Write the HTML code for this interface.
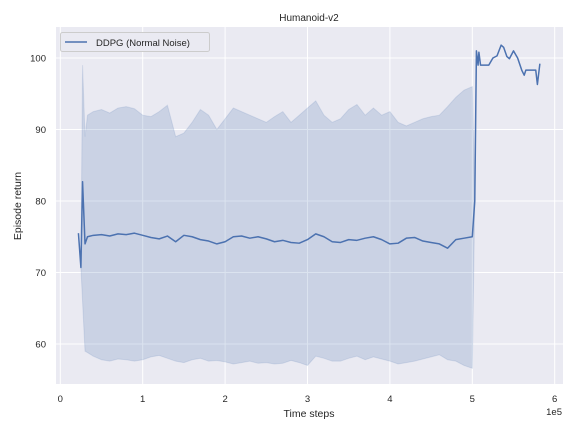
<!DOCTYPE html>
<html><head><meta charset="utf-8"><style>
body{margin:0;background:#fff;font-family:"Liberation Sans",sans-serif;}
svg text{font-family:"Liberation Sans",sans-serif;fill:#262626;}
</style></head><body>
<svg width="576" height="432" xmlns="http://www.w3.org/2000/svg" id="chart">
<rect x="56" y="27" width="507" height="357" fill="#eaeaf2"/>
<g id="grid"></g><g id="series"></g><g id="ticks"></g>
<text x="309" y="21" font-size="10" text-anchor="middle">Humanoid-v2</text>
<text x="309" y="417" font-size="10.5" text-anchor="middle">Time steps</text>
<text x="21" y="206" font-size="10.5" text-anchor="middle" transform="rotate(-90 21 206)">Episode return</text>
<text x="562" y="415" font-size="9.5" text-anchor="end">1e5</text>
<g>
<rect x="60.5" y="32.5" width="149" height="19" rx="2" fill="#eaeaf2" stroke="#cccccc"/>
<line x1="65" y1="42" x2="87" y2="42" stroke="#4c72b0" stroke-width="1.5"/>
<text x="96" y="46" font-size="9.5">DDPG (Normal Noise)</text>
</g>
</svg>
<script>
const xsEarly=[0.22,0.25,0.27,0.30,0.33];
const meanEarly=[75.5,70.7,82.7,74.0,75.0];
const upEarly=[75.5,70.7,99.0,89.0,92.0];
const loEarly=[75.5,70.7,66.0,59.0,58.8];
const meanMid=[75.2,75.3,75.1,75.4,75.3,75.5,75.2,74.9,74.7,75.1,74.3,75.2,75.0,74.6,74.4,74.0,74.3,75.0,75.1,74.8,75.0,74.7,74.3,74.5,74.2,74.1,74.6,75.4,75.0,74.3,74.2,74.6,74.5,74.8,75.0,74.6,74.0,74.1,74.8,74.9,74.4,74.2,74.0,73.4,74.6,74.8,75.0];
const upMid=[92.5,92.8,92.3,93.0,93.2,92.9,92.0,91.8,92.5,93.4,89.0,89.5,91.0,92.8,92.0,90.0,91.5,93.0,92.5,92.0,91.5,91.0,91.8,92.5,91.0,92.0,93.0,94.0,92.0,91.0,91.5,92.8,93.5,92.0,93.0,92.0,92.5,91.0,90.5,91.0,91.5,91.8,92.0,93.2,94.5,95.5,96.0];
const loMid=[58.3,57.8,57.6,57.9,57.8,57.6,57.8,58.2,58.4,58.0,57.6,57.4,57.8,58.0,57.6,57.7,57.5,57.2,57.4,57.6,57.3,57.4,57.2,57.3,57.7,57.4,57.0,58.3,58.0,57.6,57.6,58.0,58.3,57.8,58.2,57.9,57.6,57.2,57.4,57.6,57.9,58.2,58.5,57.8,57.6,57.0,56.6];
const xsLate=[5.03,5.05,5.07,5.08,5.10,5.12,5.20,5.25,5.30,5.35,5.38,5.42,5.45,5.50,5.55,5.60,5.63,5.65,5.77,5.79,5.82];
const meanLate=[80.0,101.0,99.0,100.8,99.0,99.0,99.0,100.0,100.3,101.8,101.5,100.2,99.9,101.0,100.0,98.3,97.6,98.3,98.3,96.3,99.2];
const xTicks=[0,1,2,3,4,5,6];
const yTicks=[60,70,80,90,100];
const X=v=>60.3+v*82.4, Y=v=>58+(100-v)*7.15;
const NS="http://www.w3.org/2000/svg";
function mk(t,a,p){const e=document.createElementNS(NS,t);for(const k in a)e.setAttribute(k,a[k]);p.appendChild(e);return e;}
const grid=document.getElementById('grid'),ticks=document.getElementById('ticks'),ser=document.getElementById('series');
xTicks.forEach(t=>{const g=mk('line',{x1:X(t),x2:X(t),y1:27,y2:384,stroke:'#fff','stroke-width':1},grid);


const l=mk('text',{x:X(t),y:402,'font-size':9.5,'text-anchor':'middle'},ticks);l.textContent=t;

});
yTicks.forEach(t=>{const g=mk('line',{x1:56,x2:563,y1:Y(t),y2:Y(t),stroke:'#fff','stroke-width':1},grid);


const l=mk('text',{x:46,y:Y(t)+3.5,'font-size':9.5,'text-anchor':'end'},ticks);l.textContent=t;

});
const xsMid=meanMid.map((_,i)=>0.4+i*0.1);
const xs=[...xsEarly,...xsMid,...xsLate];
const mean=[...meanEarly,...meanMid,...meanLate];
const up=[...upEarly,...upMid,...meanLate];
const lo=[...loEarly,...loMid,...meanLate];
let d='M'+xs.map((x,i)=>X(x)+','+Y(up[i])).join('L');
for(let i=xs.length-1;i>=0;i--)d+='L'+X(xs[i])+','+Y(lo[i]);
const band=mk('path',{d:d+'Z',fill:'#4c72b0','fill-opacity':0.2,stroke:'#4c72b0','stroke-opacity':0.15},ser);


const line=mk('polyline',{points:xs.map((x,i)=>X(x)+','+Y(mean[i])).join(' '),fill:'none',stroke:'#4c72b0','stroke-width':1.5,'stroke-linejoin':'round'},ser);


</script>
</body></html>
